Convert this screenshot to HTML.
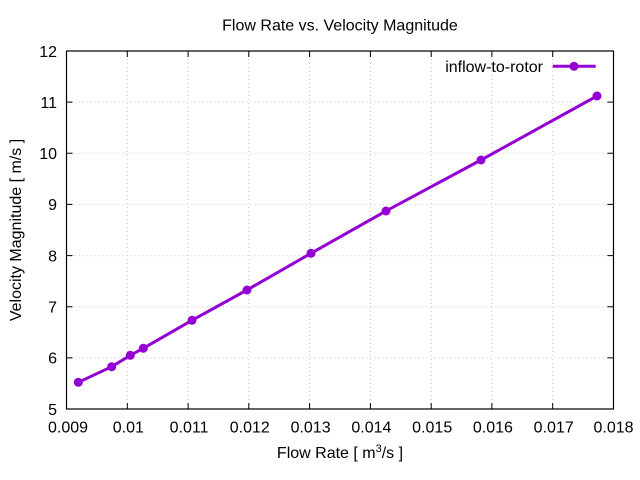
<!DOCTYPE html>
<html><head><meta charset="utf-8"><style>
html,body{margin:0;padding:0;background:#fff;}
svg{display:block;}
text{font-family:"Liberation Sans",Arial,sans-serif;font-size:16px;fill:#000;}
</style></head><body>
<svg width="640" height="480" viewBox="0 0 640 480" xmlns="http://www.w3.org/2000/svg">
<rect width="640" height="480" fill="#fff"/>
<!-- grid -->
<g stroke="#c8c8c8" stroke-width="1" stroke-dasharray="1,3">
<line x1="127.3" y1="51" x2="127.3" y2="409"/>
<line x1="188.1" y1="51" x2="188.1" y2="409"/>
<line x1="248.8" y1="51" x2="248.8" y2="409"/>
<line x1="309.6" y1="51" x2="309.6" y2="409"/>
<line x1="370.4" y1="51" x2="370.4" y2="409"/>
<line x1="431.2" y1="51" x2="431.2" y2="409"/>
<line x1="491.9" y1="51" x2="491.9" y2="409"/>
<line x1="552.7" y1="51" x2="552.7" y2="409"/>
<line x1="66.5" y1="102.1" x2="613.5" y2="102.1"/>
<line x1="66.5" y1="153.3" x2="613.5" y2="153.3"/>
<line x1="66.5" y1="204.4" x2="613.5" y2="204.4"/>
<line x1="66.5" y1="255.6" x2="613.5" y2="255.6"/>
<line x1="66.5" y1="306.7" x2="613.5" y2="306.7"/>
<line x1="66.5" y1="357.9" x2="613.5" y2="357.9"/>
</g>
<!-- ticks -->
<g stroke="#000" stroke-width="1">
<path d="M127.3 409v-6M188.1 409v-6M248.8 409v-6M309.6 409v-6M370.4 409v-6M431.2 409v-6M491.9 409v-6M552.7 409v-6"/>
<path d="M127.3 51v6M188.1 51v6M248.8 51v6M309.6 51v6M370.4 51v6M431.2 51v6M491.9 51v6M552.7 51v6"/>
<path d="M66.5 102.1h6M66.5 153.3h6M66.5 204.4h6M66.5 255.6h6M66.5 306.7h6M66.5 357.9h6"/>
<path d="M613.5 102.1h-6M613.5 153.3h-6M613.5 204.4h-6M613.5 255.6h-6M613.5 306.7h-6M613.5 357.9h-6"/>
</g>
<rect x="66.5" y="51" width="547" height="358" fill="none" stroke="#000" stroke-width="1.2"/>
<!-- y tick labels -->
<g text-anchor="end">
<text x="57" y="56.8">12</text>
<text x="57" y="107.9">11</text>
<text x="57" y="159.1">10</text>
<text x="57" y="210.2">9</text>
<text x="57" y="261.4">8</text>
<text x="57" y="312.5">7</text>
<text x="57" y="363.7">6</text>
<text x="57" y="414.8">5</text>
</g>
<!-- x tick labels -->
<g text-anchor="middle">
<text x="68" y="432.5">0.009</text>
<text x="128.3" y="432.5">0.01</text>
<text x="189.1" y="432.5">0.011</text>
<text x="249.8" y="432.5">0.012</text>
<text x="310.6" y="432.5">0.013</text>
<text x="371.4" y="432.5">0.014</text>
<text x="432.2" y="432.5">0.015</text>
<text x="492.9" y="432.5">0.016</text>
<text x="553.7" y="432.5">0.017</text>
<text x="613.5" y="432.5">0.018</text>
</g>
<!-- title & labels -->
<text x="340" y="30.5" text-anchor="middle">Flow Rate vs. Velocity Magnitude</text>
<text x="340" y="458" text-anchor="middle">Flow Rate [ m<tspan dy="-6" font-size="11">3</tspan><tspan dy="6">/s ]</tspan></text>
<text transform="translate(21,230) rotate(-90)" text-anchor="middle">Velocity Magnitude [ m/s ]</text>
<!-- legend -->
<text x="543" y="72" text-anchor="end">inflow-to-rotor</text>
<line x1="552.7" y1="66.3" x2="595.7" y2="66.3" stroke="#9400d3" stroke-width="3"/>
<circle cx="574" cy="66.3" r="4.5" fill="#9400d3"/>
<!-- series -->
<polyline fill="none" stroke="#9400d3" stroke-width="3" stroke-linejoin="round" points="78.3,382.3 111.7,366.7 130.3,355.3 143.3,348.3 192,320.3 247,290 311,253.3 386,211 481,160 597,96"/>
<g fill="#9400d3">
<circle cx="78.3" cy="382.3" r="4.5"/>
<circle cx="111.7" cy="366.7" r="4.5"/>
<circle cx="130.3" cy="355.3" r="4.5"/>
<circle cx="143.3" cy="348.3" r="4.5"/>
<circle cx="192" cy="320.3" r="4.5"/>
<circle cx="247" cy="290" r="4.5"/>
<circle cx="311" cy="253.3" r="4.5"/>
<circle cx="386" cy="211" r="4.5"/>
<circle cx="481" cy="160" r="4.5"/>
<circle cx="597" cy="96" r="4.5"/>
</g>
</svg>
</body></html>
